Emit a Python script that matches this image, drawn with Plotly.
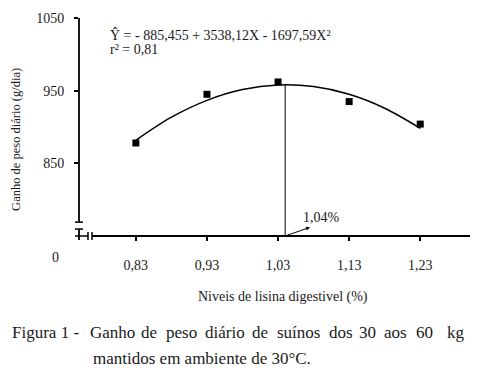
import plotly.graph_objects as go

# ---- data ----
lisina = [0.83, 0.93, 1.03, 1.13, 1.23]
ganho = [878, 945, 962, 935, 904]

curve_x = [0.83, 0.88, 0.93, 0.98, 1.03, 1.08, 1.13, 1.18, 1.23]
curve_y = [881.7, 913.5, 936.7, 951.5, 957.8, 955.6, 945.0, 925.8, 898.2]

opt_x = 1.04
opt_y = 958

x_ticks = [0.83, 0.93, 1.03, 1.13, 1.23]
x_ticktext = ["0,83", "0,93", "1,03", "1,13", "1,23"]
y_ticks = [850, 950, 1050]
y_ticktext = ["850", "950", "1050"]

equation = "Ŷ = - 885,455 + 3538,12X - 1697,59X²"
r2_text = "r² = 0,81"
opt_label = "1,04%"
x_title = "Niveis de lisina digestivel (%)"
y_title = "Ganho de peso diário (g/dia)"
caption_words = ["Figura 1 -", "Ganho", "de", "peso", "diário", "de", "suínos",
                 "dos", "30", "aos", "60", "kg"]
caption_line2 = "mantidos em ambiente de 30°C."

# ---- layout geometry (page pixels; body has an 8px default margin) ----
OFF = 8
PAGE_W, PAGE_H = 481, 377
W, H = PAGE_W - 2 * OFF, PAGE_H - 2 * OFF
PL, PT, PR, PB = 79, 16, 470, 236          # plot area in page pixels
L, T = PL - OFF, PT - OFF
R = W - (PR - OFF)
B = H - (PB - OFF)
PW, PH = PR - PL, PB - PT

def px(X):
    return (X - PL) / PW

def py(Y):
    return (PB - Y) / PH

FONT = "Liberation Serif"
TXT = "#1a1a1a"
CAP = 17

fig = go.Figure()

fig.add_trace(go.Scatter(x=curve_x, y=curve_y, mode="lines",
                         line=dict(color="black", width=1.5, shape="spline", smoothing=1),
                         hoverinfo="skip", showlegend=False))
fig.add_trace(go.Scatter(x=[opt_x, opt_x], y=[750, opt_y], mode="lines",
                         line=dict(color="black", width=1), showlegend=False))
fig.add_trace(go.Scatter(x=lisina, y=ganho, mode="markers",
                         marker=dict(symbol="square", size=7, color="black"),
                         showlegend=False))

shapes = []
def seg(x0, y0, x1, y1, w=1.8):
    shapes.append(dict(type="line", xref="paper", yref="paper",
                       x0=px(x0), y0=py(y0), x1=px(x1), y1=py(y1),
                       line=dict(color="black", width=w)))

# y axis (broken)
seg(PL, PT, PL, 222)
seg(75, 222, 83, 222, 1.5)
seg(75, 229, 83, 229, 1.5)
seg(PL, 229, PL, 240)
# x axis (broken)
seg(75, PB, 88, PB, 1.5)
seg(88, 232, 88, 240, 1.5)
seg(92, 232, 92, 240, 1.5)
seg(92, PB, PR, PB)

annotations = [
    dict(x=px(108), y=py(33), xref="paper", yref="paper", text=equation,
         showarrow=False, xanchor="left", yanchor="middle",
         font=dict(family=FONT, size=14, color=TXT)),
    dict(x=px(108), y=py(48), xref="paper", yref="paper", text=r2_text,
         showarrow=False, xanchor="left", yanchor="middle",
         font=dict(family=FONT, size=14, color=TXT)),
    dict(x=1.075, y=762, xref="x", yref="y", ax=opt_x, ay=750, axref="x", ayref="y",
         text="", showarrow=True, arrowhead=2, arrowsize=0.8, arrowwidth=1,
         arrowcolor="black", standoff=0, startstandoff=0),
    dict(x=px(321), y=py(217), xref="paper", yref="paper", text=opt_label,
         showarrow=False, xanchor="center", yanchor="middle",
         font=dict(family=FONT, size=14, color=TXT)),
    dict(x=px(55), y=py(258), xref="paper", yref="paper", text="0",
         showarrow=False, xanchor="center", yanchor="middle",
         font=dict(family=FONT, size=14, color=TXT)),
    dict(x=px(283), y=py(298), xref="paper", yref="paper", text=x_title,
         showarrow=False, xanchor="center", yanchor="middle",
         font=dict(family=FONT, size=14, color=TXT)),
    dict(x=px(16), y=py(139), xref="paper", yref="paper", text=y_title,
         showarrow=False, xanchor="center", yanchor="middle", textangle=-90,
         font=dict(family=FONT, size=12.5, color=TXT)),
    dict(x=px(91), y=py(360), xref="paper", yref="paper", text=caption_line2,
         showarrow=False, xanchor="left", yanchor="middle",
         font=dict(family=FONT, size=CAP, color=TXT)),
]
# justified first caption line: word anchor positions in page pixels
caption_pos = [(10, "left"), (112, "center"), (148.5, "center"), (181, "center"),
               (224.5, "center"), (260, "center"), (298.5, "center"), (340.5, "center"),
               (367.5, "center"), (395.5, "center"), (424.5, "center"), (456, "center")]
for word, (xx, anc) in zip(caption_words, caption_pos):
    annotations.append(dict(x=px(xx), y=py(333), xref="paper", yref="paper", text=word,
                            showarrow=False, xanchor=anc, yanchor="middle",
                            font=dict(family=FONT, size=CAP, color=TXT)))

fig.update_layout(
    width=W, height=H,
    margin=dict(l=L, r=R, t=T, b=B, pad=0),
    plot_bgcolor="white", paper_bgcolor="white",
    shapes=shapes, annotations=annotations,
    font=dict(family=FONT, size=14, color=TXT),
    xaxis=dict(range=[0.75, 1.30], showgrid=False, zeroline=False, showline=False,
               tickvals=x_ticks, ticktext=x_ticktext, ticks="outside", ticklen=4,
               tickwidth=1.5, tickcolor="black", ticklabelstandoff=12,
               tickfont=dict(family=FONT, size=14, color=TXT)),
    yaxis=dict(range=[750, 1050], showgrid=False, zeroline=False, showline=False,
               tickvals=y_ticks, ticktext=y_ticktext, ticks="outside", ticklen=4,
               tickwidth=1.5, tickcolor="black", ticklabelstandoff=7,
               tickfont=dict(family=FONT, size=14, color=TXT)),
)

fig.write_html("out.html")
